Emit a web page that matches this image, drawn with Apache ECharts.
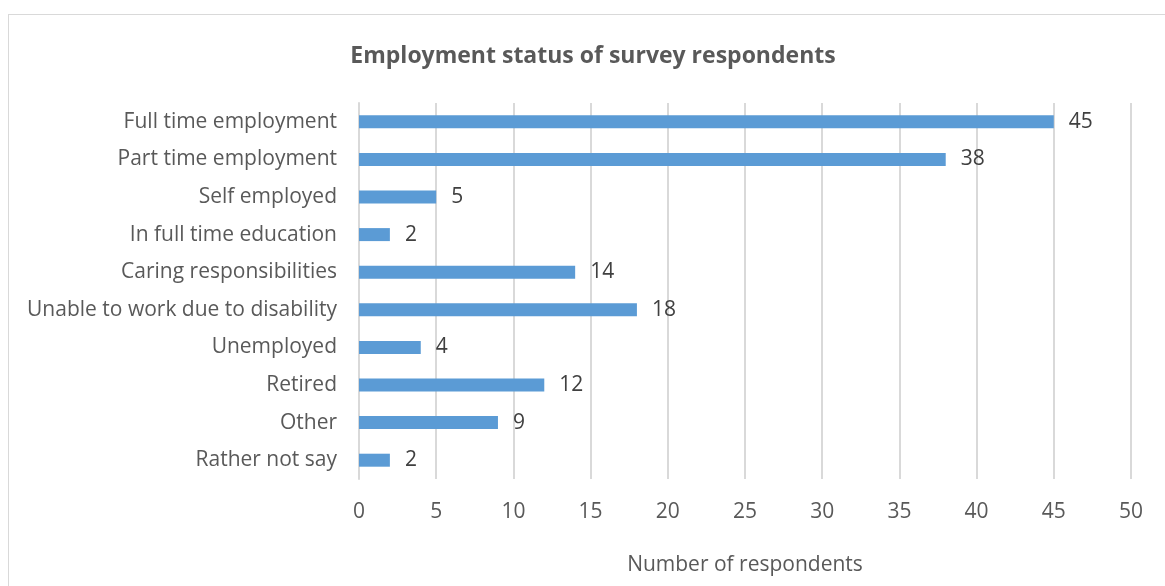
<!DOCTYPE html>
<html>
<head>
<meta charset="utf-8">
<script src="https://cdn.jsdelivr.net/npm/echarts@6/dist/echarts.min.js"></script>
<style>
  html, body { margin: 0; padding: 0; background: #fff; }
  #frame { position: absolute; left: 8px; top: 14px; width: 1170px; height: 590px; border: 1px solid #d9d9d9; box-sizing: border-box; }
  #chart { position: absolute; left: 0; top: 0; width: 1165px; height: 586px; }
</style>
</head>
<body>
<div id="frame"></div>
<div id="chart"></div>
<script>
// Survey categories, top to bottom
const categories = [
  'Full time employment',
  'Part time employment',
  'Self employed',
  'In full time education',
  'Caring responsibilities',
  'Unable to work due to disability',
  'Unemployed',
  'Retired',
  'Other',
  'Rather not say'
];
// Number of respondents per category
const respondents = [45, 38, 5, 2, 14, 18, 4, 12, 9, 2];
// Value axis ticks
const xTicks = [0, 5, 10, 15, 20, 25, 30, 35, 40, 45, 50];

const FONT = '"Open Sans", "Noto Sans", sans-serif';
const chart = echarts.init(document.getElementById('chart'));
chart.setOption({
  animation: false,
  title: {
    text: 'Employment status of survey respondents',
    left: 588, top: 40, textAlign: 'center',
    textStyle: { fontFamily: FONT, fontSize: 23, fontWeight: 'bold', color: '#595959' }
  },
  grid: { left: 359, right: 34, top: 103, bottom: 107, containLabel: false },
  xAxis: {
    type: 'value',
    min: xTicks[0], max: xTicks[xTicks.length - 1], interval: 5,
    name: 'Number of respondents',
    nameLocation: 'middle', nameGap: 76,
    nameTextStyle: { fontFamily: FONT, fontSize: 21, color: '#595959' },
    axisLine: { show: false }, axisTick: { show: false },
    axisLabel: { fontFamily: FONT, fontSize: 21, color: '#595959', margin: 23 },
    splitLine: { lineStyle: { color: '#d9d9d9', width: 2 } }
  },
  yAxis: {
    type: 'category', data: categories, inverse: true,
    axisLine: { lineStyle: { color: '#d9d9d9', width: 2 } },
    axisTick: { show: false },
    axisLabel: { fontFamily: FONT, fontSize: 21, color: '#595959', margin: 22 }
  },
  series: [{
    type: 'bar', data: respondents, barWidth: 13,
    itemStyle: { color: '#5b9bd5' },
    label: { show: true, position: 'right', distance: 15, fontFamily: FONT, fontSize: 21, color: '#404040' }
  }]
});
</script>
</body>
</html>
